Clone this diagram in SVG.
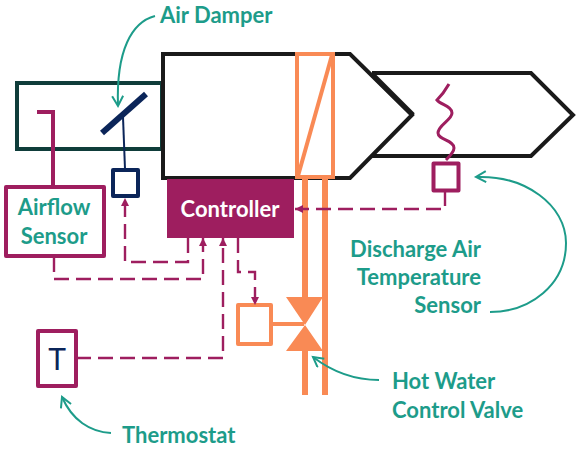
<svg xmlns="http://www.w3.org/2000/svg" width="576" height="450" viewBox="0 0 576 450">
<style>
.lbl{font-family:"Lato","Carlito","Open Sans",sans-serif;font-weight:700;font-size:22px;fill:#1d9c8a}
.box{fill:#fff;stroke-width:4;stroke-linejoin:round}
.mag{stroke:#9e1e5f}.org{stroke:#f98a55}.nav{stroke:#0b2559}
.dash{fill:none;stroke:#9e1e5f;stroke-width:2.400;stroke-dasharray:15 7}
.lead{fill:none;stroke:#1d9c8a;stroke-width:2}
</style>
<defs>
<marker id="a" markerUnits="userSpaceOnUse" markerWidth="10" markerHeight="10" refX="8" refY="4" orient="auto"><path d="M0 0L8 4L0 8z" fill="#9e1e5f"/></marker>
<marker id="t" markerUnits="userSpaceOnUse" markerWidth="14" markerHeight="14" refX="11" refY="6" orient="auto"><path d="M1 0.5L11 6L1 11.5" fill="none" stroke="#1d9c8a" stroke-width="2"/></marker>
</defs>
<g id="discharge-duct"><path d="M372 73H531L573 115L531 156H372" fill="#fff" stroke="#1a1a1a" stroke-width="4"/></g>
<g id="inlet-duct"><rect x="17" y="83" width="145" height="66" fill="#fff" stroke="#0f3d3a" stroke-width="4"/></g>
<g id="main-duct"><path d="M163 54H350L412 115L350 178H163z" fill="#fff" stroke="#1a1a1a" stroke-width="4"/><path d="M372 74L413 115" stroke="#1a1a1a" stroke-width="5" fill="none"/></g>
<g id="pipes"><path d="M305 177V297M305 351V395M325 177V395" fill="none" stroke="#f98a55" stroke-width="6"/></g>
<g id="coil"><rect x="297" y="54" width="36" height="123" fill="none" class="org" stroke-width="4"/><path d="M332 55L298 176" class="org" stroke-width="4"/></g>
<g id="damper"><path d="M102 133L146 94" class="nav" stroke-width="6" fill="none"/><path d="M123 117L125 169" class="nav" stroke-width="2" fill="none"/><rect class="box nav" x="113" y="170" width="25" height="26"/></g>
<g id="controller"><rect x="167" y="179" width="127" height="59" fill="#9e1e5f"/><text x="230" y="217" text-anchor="middle" class="lbl" style="fill:#fff">Controller</text></g>
<g id="airflow-sensor"><path d="M37 112H53V187" fill="none" class="mag" stroke-width="4"/><rect class="box mag" x="6" y="187" width="98" height="69"/><text x="54" y="215" text-anchor="middle" class="lbl">Airflow</text><text x="54" y="244" text-anchor="middle" class="lbl">Sensor</text></g>
<g id="temp-sensor"><path d="M449 84C445 91 441 96 437 100C441 105 452 106 452 113C452 120 438 125 438 133C438 140 454 140 454 148C454 152 449 157 446 160" fill="none" class="mag" stroke-width="3"/><rect class="box mag" x="433.500" y="163.500" width="25" height="27"/></g>
<g id="valve"><path d="M286 297H323L305 325L323 351H286L305 325z" fill="#f98a55"/><path d="M272 324H304" class="org" stroke-width="4"/><rect class="box org" x="238" y="305" width="33" height="39"/></g>
<g id="thermostat"><rect class="box mag" x="38" y="331" width="38" height="55"/><text x="57" y="370" text-anchor="middle" font-family="Lato,sans-serif" font-size="30" fill="#0b2559">T</text></g>
<g id="connectors">
<path class="dash" d="M54 257V279H203V238" marker-end="url(#a)"/>
<path class="dash" d="M188 238V262H125V198" marker-end="url(#a)"/>
<path class="dash" d="M76 358H223V238" marker-end="url(#a)"/>
<path class="dash" d="M238 238V272H255V305" marker-end="url(#a)"/>
<path class="dash" d="M445 191V209H295" marker-end="url(#a)"/>
<path class="lead" d="M155 16C132 22 116 50 118 106" marker-end="url(#t)"/>
<path class="lead" d="M490 312C530 312 566 285 566 243C566 205 525 175 476 177" marker-end="url(#t)"/>
<path class="lead" d="M379 380C350 380 330 370 313 357" marker-end="url(#t)"/>
<path class="lead" d="M111 433C90 432 72 420 62 397" marker-end="url(#t)"/>
</g>
<g id="labels">
<text x="160" y="23" class="lbl">Air Damper</text>
<text x="481" y="257" text-anchor="end" class="lbl">Discharge Air</text>
<text x="481" y="285" text-anchor="end" class="lbl">Temperature</text>
<text x="481" y="313" text-anchor="end" class="lbl">Sensor</text>
<text x="392" y="389" class="lbl">Hot Water</text>
<text x="392" y="418" class="lbl">Control Valve</text>
<text x="122" y="443" class="lbl">Thermostat</text>
</g>
</svg>
